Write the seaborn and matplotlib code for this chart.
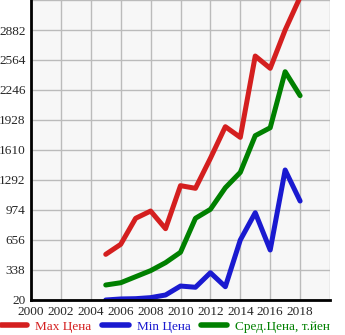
import matplotlib
matplotlib.use("Agg")
import matplotlib.pyplot as plt
import seaborn as sns
import pandas as pd
from matplotlib.lines import Line2D

years = list(range(2005, 2019))
max_price = [504, 610, 886, 963, 776, 1232, 1204, 1522, 1857, 1744, 2606, 2476, 2882, 3230]
min_price = [20, 31, 34, 45, 73, 168, 155, 309, 161, 656, 945, 550, 1398, 1069]
avg_price = [179, 203, 267, 331, 416, 526, 886, 981, 1210, 1373, 1762, 1846, 2440, 2186]
series_names = ["Max Цена", "Min Цена", "Сред.Цена, т.йен"]
colors = ["#d41f1f", "#1a1ad0", "#008000"]
y_ticks = [20, 338, 656, 974, 1292, 1610, 1928, 2246, 2564, 2882, 3200]
x_ticks = list(range(2000, 2019, 2))

df = pd.concat([
    pd.DataFrame({"year": years, "value": vals, "series": name})
    for name, vals in zip(series_names, [max_price, min_price, avg_price])
])

sns.set_style("white")
plt.rcParams["font.family"] = ["Liberation Serif", "DejaVu Serif"]

fig = plt.figure(figsize=(3.45, 3.35), dpi=100)
ax = fig.add_axes([31/345, 35/335, 299/345, 300/335])
ax.set_facecolor("#f7f7f7")

sns.lineplot(data=df, x="year", y="value", hue="series", palette=colors,
             hue_order=series_names, linewidth=3.6, ax=ax, legend=False,
             solid_capstyle="round", solid_joinstyle="round")

ax.set_xlim(2000, 2020)
ax.set_ylim(20, 3200)
ax.set_xticks(x_ticks + [2020])
ax.set_xticklabels([str(x) for x in x_ticks] + [""])
ax.set_yticks(y_ticks)
ax.set_yticklabels([str(y) for y in y_ticks[:-1]] + [""])
ax.grid(True, color="#bbbbbb", linewidth=1)
ax.set_axisbelow(True)
ax.set_xlabel("")
ax.set_ylabel("")
for s in ["top", "right"]:
    ax.spines[s].set_visible(False)
for s in ["left", "bottom"]:
    ax.spines[s].set_color("black")
    ax.spines[s].set_linewidth(2)
ax.tick_params(axis="both", labelsize=9.5, length=3, width=1, color="black", pad=1, direction="out")

handles = [Line2D([0], [0], color=c, linewidth=4, solid_capstyle="round") for c in colors]
leg = fig.legend(handles, series_names, loc="lower center", bbox_to_anchor=(0.48, 0.0),
                 ncol=3, frameon=False, fontsize=9.5, handlelength=2.0, handletextpad=0.6,
                 columnspacing=0.8, borderaxespad=0.0, borderpad=0.15)
for t, c in zip(leg.get_texts(), colors):
    t.set_color(c)

fig.savefig("out.png", dpi=100)
